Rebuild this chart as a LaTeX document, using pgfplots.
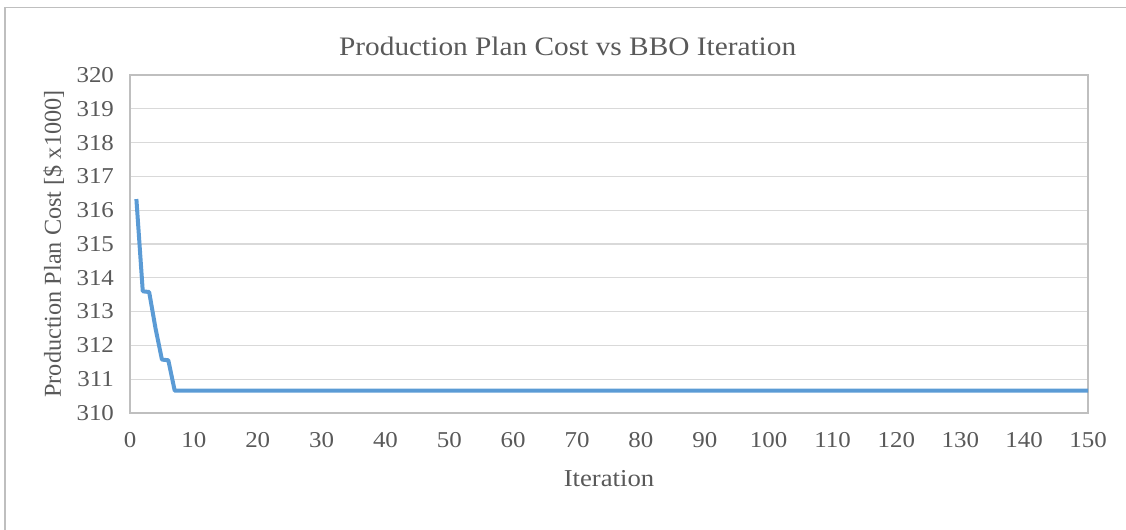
\documentclass[border=0pt]{standalone}
\usepackage{pgfplots}
\pgfplotsset{compat=1.18}
\usepackage{fontspec}
\setmainfont[FakeStretch=1.1]{Liberation Serif}
\newfontfamily\plainfont{Liberation Serif}
\definecolor{txt}{HTML}{595959}
\definecolor{gridc}{HTML}{D9D9D9}
\definecolor{frame}{HTML}{BFBFBF}
\definecolor{line}{HTML}{5B9BD5}
\begin{document}
\begin{tikzpicture}
\useasboundingbox (0pt,0pt) rectangle (844.5pt,396.75pt);
\draw[frame, line width=1.2pt] (3.75pt,-15pt) -- (3.75pt,391.1pt) -- (860pt,391.1pt);
\begin{axis}[
  at={(97.5pt,87pt)}, anchor=south west,
  scale only axis,
  width=718.5pt, height=253.5pt,
  xmin=0, xmax=150, ymin=310, ymax=320,
  xtick={0,10,...,150},
  ytick={310,311,...,320},
  ymajorgrids, xmajorgrids=false,
  major grid style={draw=gridc, line width=0.9pt},
  axis line style={draw=frame, line width=1pt},
  tick style={draw=none},
  ticklabel style={font=\fontsize{17}{19}\selectfont, text=txt},
  /pgf/number format/assume math mode=true,
  /pgf/number format/1000 sep={},
  xticklabel style={yshift=-11pt},
  yticklabel style={xshift=-8.5pt},
  title={Production Plan Cost vs BBO Iteration},
  title style={font=\fontsize{20}{23}\selectfont, text=txt, yshift=5pt, xshift=-31pt},
  xlabel={Iteration},
  ylabel={\plainfont Production Plan Cost [\$ x1000]},
  xlabel style={font=\fontsize{18.2}{20}\selectfont, text=txt, yshift=-10pt},
  ylabel style={font=\fontsize{18.2}{20}\selectfont, text=txt, yshift=2.5pt},
]
\addplot[line, line width=3pt, line join=round] coordinates {
(1,316.33) (2,313.6) (3,313.58) (4,312.5) (5,311.58) (6,311.56) (7,310.66)
(10,310.66) (20,310.66) (30,310.66) (40,310.66) (50,310.66) (60,310.66)
(70,310.66) (80,310.66) (90,310.66) (100,310.66) (110,310.66) (120,310.66)
(130,310.66) (140,310.66) (150,310.66)
};
\end{axis}
\end{tikzpicture}
\end{document}
